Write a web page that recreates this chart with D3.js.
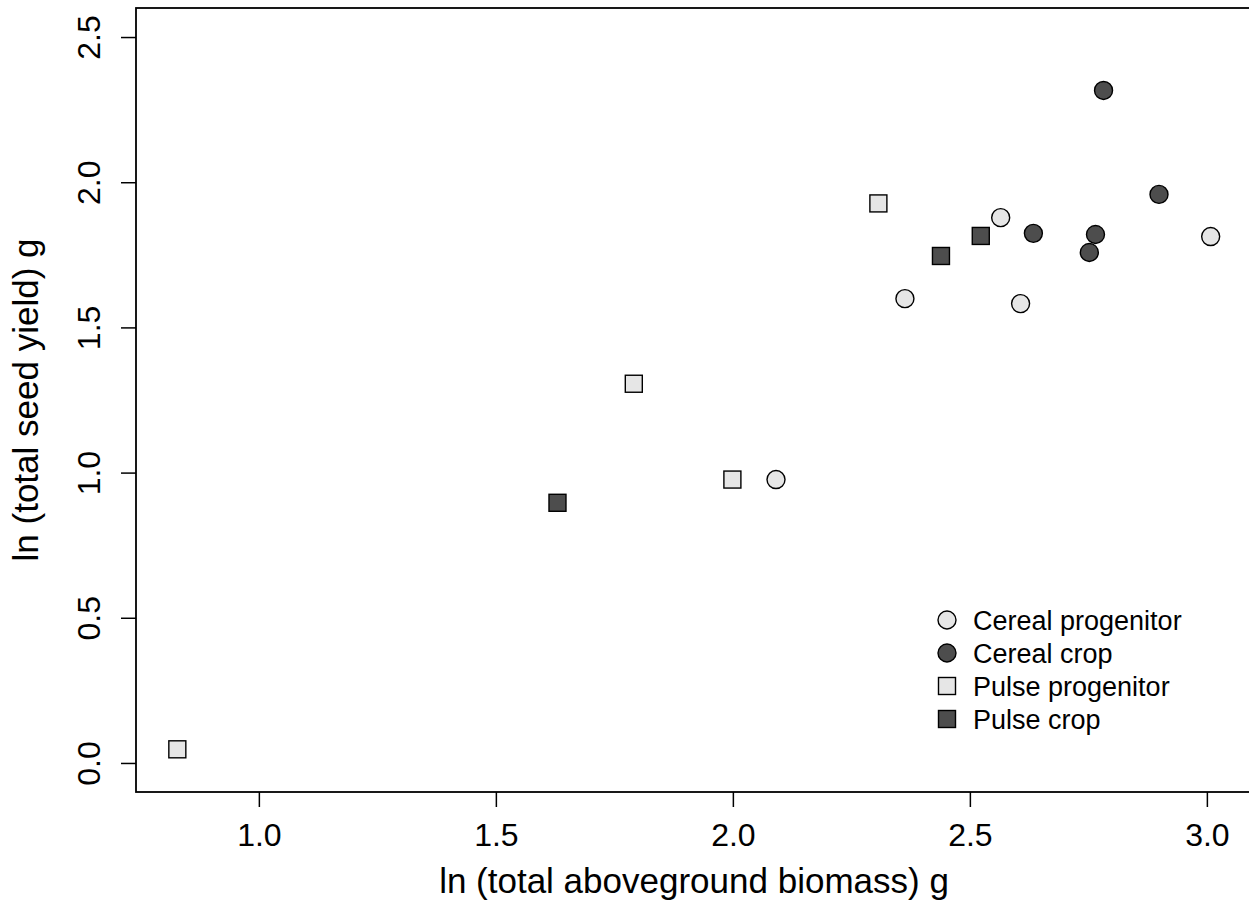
<!DOCTYPE html>
<html>
<head>
<meta charset="utf-8">
<script src="https://cdn.jsdelivr.net/npm/d3@7"></script>
<style>
  body { margin: 0; background: #fff; }
  svg text { font-family: "Liberation Sans", Arial, Helvetica, sans-serif; fill: #000; }
</style>
</head>
<body>
<div class="chart"></div>
<script>
// data (ln biomass, ln seed yield)
var groups = ["Cereal progenitor", "Cereal crop", "Pulse progenitor", "Pulse crop"];
var shapes = ["circle", "circle", "square", "square"];
var fills = ["#e6e6e6", "#4d4d4d", "#e6e6e6", "#4d4d4d"];

var cerealProgX = [2.565, 3.008, 2.363, 2.607, 2.091];
var cerealProgY = [1.878, 1.813, 1.599, 1.582, 0.976];
var cerealCropX = [2.782, 2.899, 2.634, 2.765, 2.752];
var cerealCropY = [2.316, 1.958, 1.824, 1.820, 1.758];
var pulseProgX = [2.307, 1.791, 1.999, 0.828];
var pulseProgY = [1.927, 1.306, 0.976, 0.047];
var pulseCropX = [2.439, 2.523, 1.630];
var pulseCropY = [1.746, 1.815, 0.896];

var xTicks = [1.0, 1.5, 2.0, 2.5, 3.0];
var yTicks = [0.0, 0.5, 1.0, 1.5, 2.0, 2.5];
var yLim = [0, 2.5];

var svgWidth = 1249;
var svgHeight = 918;
var margin = { top: 8, left: 136, bottom: 126, right: -3 };
var width = svgWidth - margin.left - margin.right;
var height = svgHeight - margin.top - margin.bottom;

var series = [
  [cerealProgX, cerealProgY],
  [cerealCropX, cerealCropY],
  [pulseProgX, pulseProgY],
  [pulseCropX, pulseCropY]
];

var points = [];
series.forEach(function(s, g) {
  s[0].forEach(function(x, i) {
    points.push({ x: x, y: s[1][i], g: g });
  });
});

// R style 4% axis extension
var xExt = d3.extent(points, d => d.x);
var xPad = (xExt[1] - xExt[0]) * 0.04;
var yPad = (yLim[1] - yLim[0]) * 0.04;

var xScale = d3.scaleLinear()
  .domain([xExt[0] - xPad, xExt[1] + xPad])
  .range([0, width]);
var yScale = d3.scaleLinear()
  .domain([yLim[0] - yPad, yLim[1] + yPad])
  .range([height, 0]);

var svg = d3.select(".chart")
  .append("svg")
  .attr("width", svgWidth)
  .attr("height", svgHeight);

var chartGroup = svg.append("g")
  .attr("transform", `translate(${margin.left}, ${margin.top})`);

// box
chartGroup.append("rect")
  .attr("x", 0).attr("y", 0)
  .attr("width", width).attr("height", height)
  .attr("fill", "none")
  .attr("stroke", "#000")
  .attr("stroke-width", 1.8);

var fmt = d3.format(".1f");

var xAxis = chartGroup.append("g")
  .attr("transform", `translate(0, ${height})`)
  .call(d3.axisBottom(xScale).tickValues(xTicks).tickFormat(fmt).tickSize(15).tickPadding(16));
xAxis.select(".domain").remove();
xAxis.selectAll("line").attr("stroke-width", 1.5);
xAxis.selectAll("text").attr("font-size", 32).attr("font-family", null);

var yAxis = chartGroup.append("g")
  .call(d3.axisLeft(yScale).tickValues(yTicks).tickFormat(fmt).tickSize(15));
yAxis.select(".domain").remove();
yAxis.selectAll("line").attr("stroke-width", 1.5);
yAxis.selectAll("text")
  .attr("font-size", 32)
  .attr("font-family", null)
  .attr("x", null)
  .attr("dy", null)
  .attr("text-anchor", "middle")
  .attr("transform", "translate(-36,0) rotate(-90)");

// points
var sym = {
  circle: function(sel) {
    sel.append("circle").attr("r", 9);
  },
  square: function(sel) {
    sel.append("rect").attr("x", -8.5).attr("y", -8.5).attr("width", 17).attr("height", 17);
  }
};

var marks = chartGroup.selectAll(".pt")
  .data(points)
  .enter()
  .append("g")
  .attr("class", "pt")
  .attr("transform", d => `translate(${xScale(d.x)}, ${yScale(d.y)})`);

marks.each(function(d) {
  var g = d3.select(this);
  sym[shapes[d.g]](g);
  g.selectAll("circle, rect")
    .attr("fill", fills[d.g])
    .attr("stroke", "#000")
    .attr("stroke-width", 1.4);
});

// legend
var legend = svg.append("g")
  .attr("transform", "translate(947, 620)");

var items = legend.selectAll(".item")
  .data(groups)
  .enter()
  .append("g")
  .attr("class", "item")
  .attr("transform", (d, i) => `translate(0, ${i * 33})`);

items.each(function(d, i) {
  var g = d3.select(this);
  sym[shapes[i]](g);
  g.selectAll("circle, rect")
    .attr("fill", fills[i])
    .attr("stroke", "#000")
    .attr("stroke-width", 1.4);
  g.append("text")
    .attr("x", 26)
    .attr("dy", "0.36em")
    .attr("font-size", 27)
    .text(d);
});

// axis titles
svg.append("text")
  .attr("x", margin.left + width / 2)
  .attr("y", 893)
  .attr("text-anchor", "middle")
  .attr("font-size", 35)
  .text("ln (total aboveground biomass) g");

svg.append("text")
  .attr("transform", `translate(38, ${margin.top + height / 2}) rotate(-90)`)
  .attr("text-anchor", "middle")
  .attr("font-size", 35)
  .text("ln (total seed yield) g");
</script>
</body>
</html>
